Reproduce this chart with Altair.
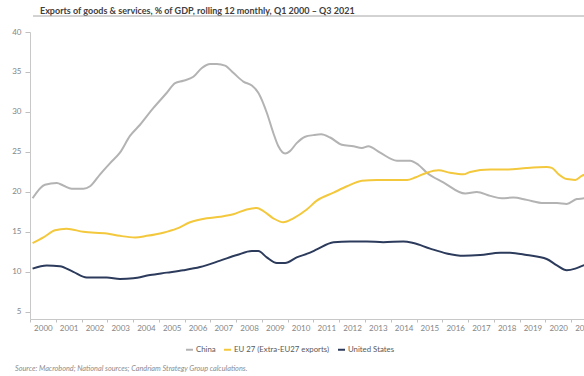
import altair as alt
import pandas as pd

series = ["China", "EU 27 (Extra-EU27 exports)", "United States"]
colors = ["#b3b3b3", "#f3c83c", "#2c3b5c"]

china_t = [2000.10, 2000.58, 2001.04, 2001.29, 2001.62, 2002.07, 2002.33, 2002.72, 2003.11, 2003.49,
           2003.88, 2004.27, 2004.79, 2005.31, 2005.63, 2005.95, 2006.34, 2006.67, 2006.99, 2007.25,
           2007.57, 2007.89, 2008.28, 2008.61, 2008.86, 2009.19, 2009.44, 2009.64, 2009.90, 2010.09,
           2010.35, 2010.68, 2011.00, 2011.30, 2011.65, 2012.10, 2012.55, 2012.88, 2013.13, 2013.59,
           2014.24, 2014.75, 2015.07, 2015.40, 2016.04, 2016.89, 2017.34, 2017.86, 2018.31, 2018.76,
           2019.28, 2019.93, 2020.45, 2020.83, 2021.22, 2021.51, 2021.65]
china_v = [19.2, 20.9, 21.1, 20.8, 20.4, 20.4, 20.7, 22.2, 23.6, 24.9,
           27.0, 28.4, 30.5, 32.4, 33.6, 33.9, 34.4, 35.5, 36.0, 36.0,
           35.8, 34.9, 33.8, 33.3, 32.4, 29.9, 27.4, 25.7, 24.8, 25.1,
           26.1, 26.9, 27.1, 27.2, 26.8, 25.9, 25.7, 25.5, 25.7, 24.9,
           23.9, 23.9, 23.4, 22.4, 21.2, 19.8, 20.0, 19.5, 19.2, 19.3,
           19.0, 18.6, 18.6, 18.5, 19.1, 19.2, 19.3]

eu_t = [2000.10, 2000.52, 2000.97, 2001.42, 2002.07, 2002.98, 2003.49, 2004.08, 2004.53, 2005.17,
        2005.69, 2006.21, 2006.86, 2007.38, 2007.89, 2008.41, 2008.80, 2009.06, 2009.44, 2009.83,
        2010.22, 2010.74, 2011.13, 2011.78, 2012.30, 2012.88, 2013.47, 2014.11, 2014.63, 2014.95,
        2015.40, 2015.85, 2016.30, 2016.82, 2017.08, 2017.86, 2018.50, 2019.28, 2020.05, 2020.25,
        2020.51, 2020.83, 2021.16, 2021.41, 2021.65]
eu_v = [13.6, 14.3, 15.2, 15.4, 15.0, 14.8, 14.5, 14.3, 14.5, 14.9,
        15.4, 16.2, 16.7, 16.9, 17.2, 17.8, 18.0, 17.6, 16.7, 16.2,
        16.7, 17.8, 18.9, 19.9, 20.7, 21.4, 21.5, 21.5, 21.5, 21.8,
        22.4, 22.7, 22.4, 22.2, 22.5, 22.8, 22.8, 23.0, 23.1, 23.0,
        22.2, 21.6, 21.5, 22.0, 22.3]

us_t = [2000.10, 2000.65, 2001.16, 2001.68, 2002.20, 2002.98, 2003.49, 2004.01, 2004.66, 2005.31,
        2005.95, 2006.60, 2007.38, 2008.03, 2008.61, 2008.86, 2009.19, 2009.58, 2009.90, 2010.35,
        2010.87, 2011.13, 2011.78, 2012.42, 2013.07, 2013.71, 2014.49, 2014.88, 2015.53, 2016.17,
        2016.82, 2017.47, 2018.25, 2018.63, 2019.28, 2020.05, 2020.45, 2020.83, 2021.16, 2021.48,
        2021.65]
us_v = [10.4, 10.8, 10.7, 10.0, 9.3, 9.3, 9.1, 9.2, 9.6, 9.9,
        10.2, 10.6, 11.4, 12.1, 12.6, 12.6, 11.8, 11.1, 11.1, 11.8,
        12.4, 12.8, 13.7, 13.8, 13.8, 13.7, 13.8, 13.6, 12.9, 12.3,
        12.0, 12.1, 12.4, 12.4, 12.1, 11.6, 10.8, 10.2, 10.4, 10.8,
        11.0]

year_ticks = list(range(2000, 2022))
y_ticks = [5, 10, 15, 20, 25, 30, 35, 40]

title_text = "Exports of goods & services, % of GDP, rolling 12 monthly, Q1 2000 \u2013 Q3 2021"
source_text = "Source: Macrobond; National sources; Candriam Strategy Group calculations."

rows = []
for name, ts, vs in [(series[0], china_t, china_v), (series[1], eu_t, eu_v), (series[2], us_t, us_v)]:
    for t, v in zip(ts, vs):
        rows.append({"t": t, "v": v, "s": name})
df = pd.DataFrame(rows)

FONT = "Lato"
W, H = 554, 287
px_per_year = W / 21.5

lines = alt.Chart(df).mark_line(strokeWidth=2, clip=True, interpolate="monotone").encode(
    x=alt.X("t:Q",
            scale=alt.Scale(domain=[2000, 2021.5], nice=False, zero=False),
            axis=alt.Axis(values=year_ticks, format="d", labelOffset=px_per_year / 2,
                          labelFlush=False, grid=False, tickSize=3, labelPadding=2,
                          domainColor="#c8c8c8", tickColor="#bfbfbf", labelColor="#858585",
                          labelFontSize=8, labelFont=FONT, title=None, labelOverlap=False)),
    y=alt.Y("v:Q",
            scale=alt.Scale(domain=[4.1, 40], nice=False, zero=False),
            axis=alt.Axis(values=y_ticks, grid=False, tickSize=5, labelPadding=4,
                          domainColor="#c8c8c8", tickColor="#bfbfbf", labelColor="#858585",
                          labelFontSize=8, labelFont=FONT, title=None)),
    color=alt.Color("s:N", sort=series,
                    scale=alt.Scale(domain=series, range=colors),
                    legend=alt.Legend(orient="none", legendX=155, legendY=313,
                                      direction="horizontal", title=None,
                                      symbolType="stroke", symbolStrokeWidth=2, symbolSize=49,
                                      labelFontSize=7.8, labelFont=FONT, labelColor="#595959",
                                      columnPadding=4, labelOffset=2)),
)

title = alt.Chart(pd.DataFrame({"t": [title_text]})).mark_text(
    align="left", baseline="middle", fontSize=9, fontWeight="bold", font=FONT, color="#404040"
).encode(x=alt.value(10), y=alt.value(-21), text="t:N")

underline = alt.Chart(pd.DataFrame({"a": [0]})).mark_rule(color="#a6a6a6", strokeWidth=1).encode(
    x=alt.value(3), x2=alt.value(W), y=alt.value(-16)
)

source = alt.Chart(pd.DataFrame({"t": [source_text]})).mark_text(
    align="left", baseline="middle", fontSize=7.3, fontStyle="italic", font=FONT, color="#8c8c8c"
).encode(x=alt.value(-15), y=alt.value(337), text="t:N")

chart = alt.layer(lines, title, underline, source).properties(
    width=W, height=H,
    autosize=alt.AutoSizeParams(type="none"),
    padding={"left": 30, "top": 32, "right": 0, "bottom": 57},
    background="white",
).configure_view(stroke=None)

chart.save("out.html", embed_options={"renderer": "svg", "actions": False})
